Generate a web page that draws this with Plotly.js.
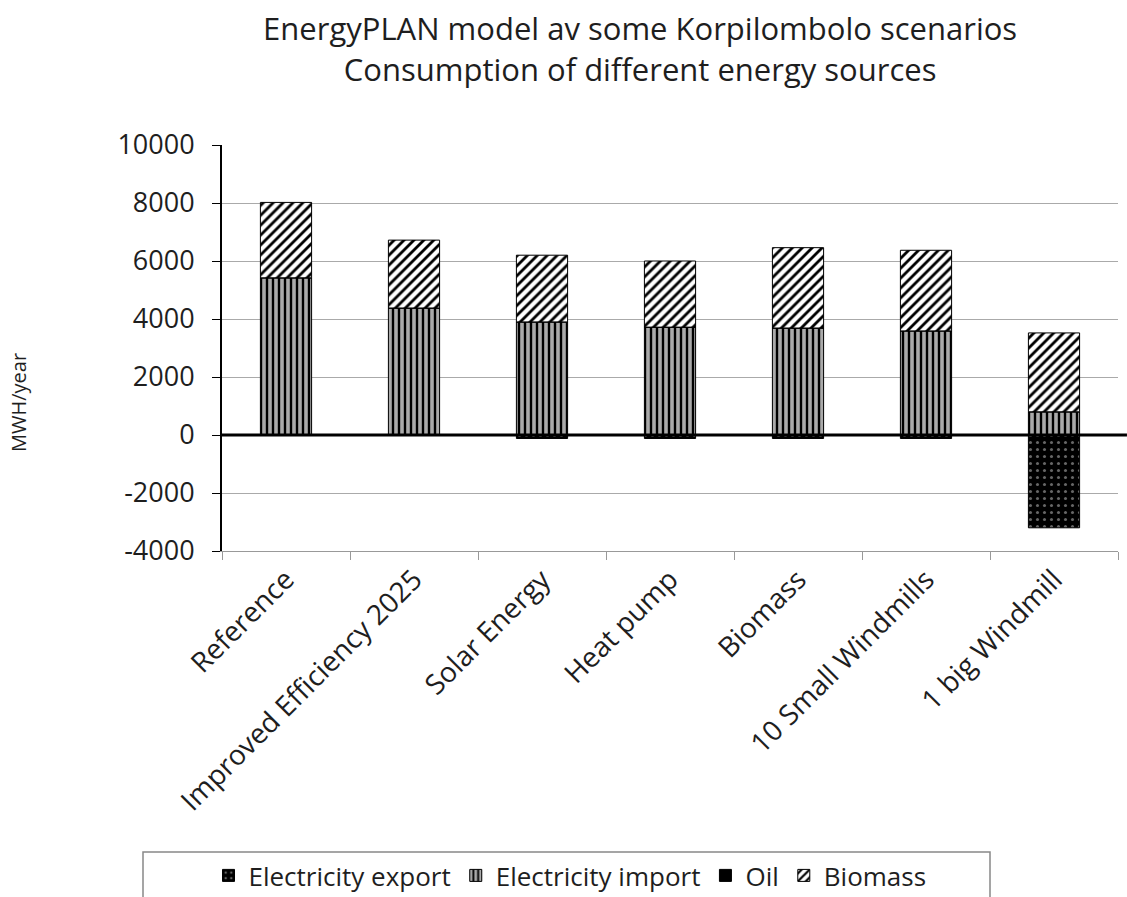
<!DOCTYPE html>
<html>
<head>
<meta charset="utf-8">
<script src="https://cdn.plot.ly/plotly-3.0.1.min.js"></script>
<style>
  html, body { margin: 0; padding: 0; background: #fff; }
  #chart { width: 1127px; height: 897px; }
</style>
</head>
<body>
<div id="chart"></div>
<script>
// Scenarios modelled in EnergyPLAN
const scenarios = [
  "Reference",
  "Improved Efficiency 2025",
  "Solar Energy",
  "Heat pump",
  "Biomass",
  "10 Small Windmills",
  "1 big Windmill"
];

// Annual consumption per energy source, MWH/year
const electricityExport = [0, 0, -120, -120, -120, -120, -3200];
const electricityImport = [5420, 4380, 3900, 3720, 3690, 3590, 800];
const oil               = [0, 0, 0, 0, 0, 0, 0];
const biomass           = [2600, 2340, 2300, 2280, 2770, 2780, 2720];

const yTicks = [-4000, -2000, 0, 2000, 4000, 6000, 8000, 10000];

const FONT = "'Open Sans', sans-serif";
const TEXT = "#1e1e1e";
const outline = { color: "#000", width: 1 };

const traces = [
  {
    type: "bar", name: "Electricity export", x: scenarios, y: electricityExport,
    marker: { color: "#000", line: outline,
      pattern: { shape: ".", bgcolor: "#000", fgcolor: "#666", size: 7, solidity: 0.15 } }
  },
  {
    type: "bar", name: "Electricity import", x: scenarios, y: electricityImport,
    marker: { color: "#fff", line: outline,
      pattern: { shape: "|", bgcolor: "#aaa", fgcolor: "#000", size: 6, solidity: 0.4 } }
  },
  {
    type: "bar", name: "Oil", x: scenarios, y: oil,
    marker: { color: "#000", line: outline }
  },
  {
    type: "bar", name: "Biomass", x: scenarios, y: biomass,
    marker: { color: "#fff", line: outline,
      pattern: { shape: "/", bgcolor: "#fff", fgcolor: "#000", size: 7, solidity: 0.4 } }
  }
];

// pixel helpers: paper frame is the plot area 222..1118 x 145..551
const px = x => (x - 222) / 896;
const py = y => (551 - y) / 406;

const layout = {
  width: 1127, height: 897,
  paper_bgcolor: "#fff", plot_bgcolor: "#fff",
  margin: { l: 222, r: 9, t: 145, b: 346, autoexpand: false },
  barmode: "relative",
  bargap: 0.6,
  font: { family: FONT, color: TEXT },
  title: {
    text: "EnergyPLAN model av some Korpilombolo scenarios<br>Consumption of different energy sources",
    font: { family: FONT, size: 31, color: TEXT },
    x: 0.568, xanchor: "center", y: 0.955, yanchor: "top"
  },
  xaxis: {
    type: "category",
    tickangle: -45,
    tickfont: { family: FONT, size: 28, color: TEXT },
    showline: true, linecolor: "#999", linewidth: 1,
    ticks: "outside", tickson: "boundaries", ticklen: 8, tickcolor: "#999",
    showgrid: false
  },
  yaxis: {
    range: [-4000, 10000],
    tickvals: yTicks,
    ticktext: yTicks.map(String),
    tickfont: { family: FONT, size: 27, color: TEXT },
    ticklabelstandoff: 12,
    showline: true, linecolor: "#000", linewidth: 2,
    ticks: "outside", ticklen: 8, tickcolor: "#000",
    showgrid: true, gridcolor: "#aaa", gridwidth: 1,
    zeroline: false
  },
  shapes: [
    // heavy zero line, running slightly past the plot area
    { type: "line", xref: "paper", yref: "y", x0: 0, x1: 1.01, y0: 0, y1: 0,
      line: { color: "#000", width: 3 } },
    // legend frame
    { type: "rect", xref: "paper", yref: "paper",
      x0: px(143), x1: px(990), y0: py(852), y1: py(905),
      line: { color: "#888", width: 1.5 }, fillcolor: "rgba(0,0,0,0)" }
  ],
  annotations: [
    { text: "MWH/year", xref: "paper", yref: "paper", x: px(18), y: py(403),
      textangle: -90, showarrow: false, xanchor: "center", yanchor: "middle",
      font: { family: FONT, size: 20, color: TEXT } }
  ],
  legend: {
    orientation: "h",
    xref: "container", yref: "container",
    x: 570 / 1127, xanchor: "center", y: 1 - 852 / 897, yanchor: "top",
    borderwidth: 0, bgcolor: "rgba(0,0,0,0)",
    font: { family: FONT, size: 26, color: TEXT },
    traceorder: "normal",
    itemwidth: 30
  }
};

Plotly.newPlot("chart", traces, layout, { displayModeBar: false, staticPlot: true });
</script>
</body>
</html>
